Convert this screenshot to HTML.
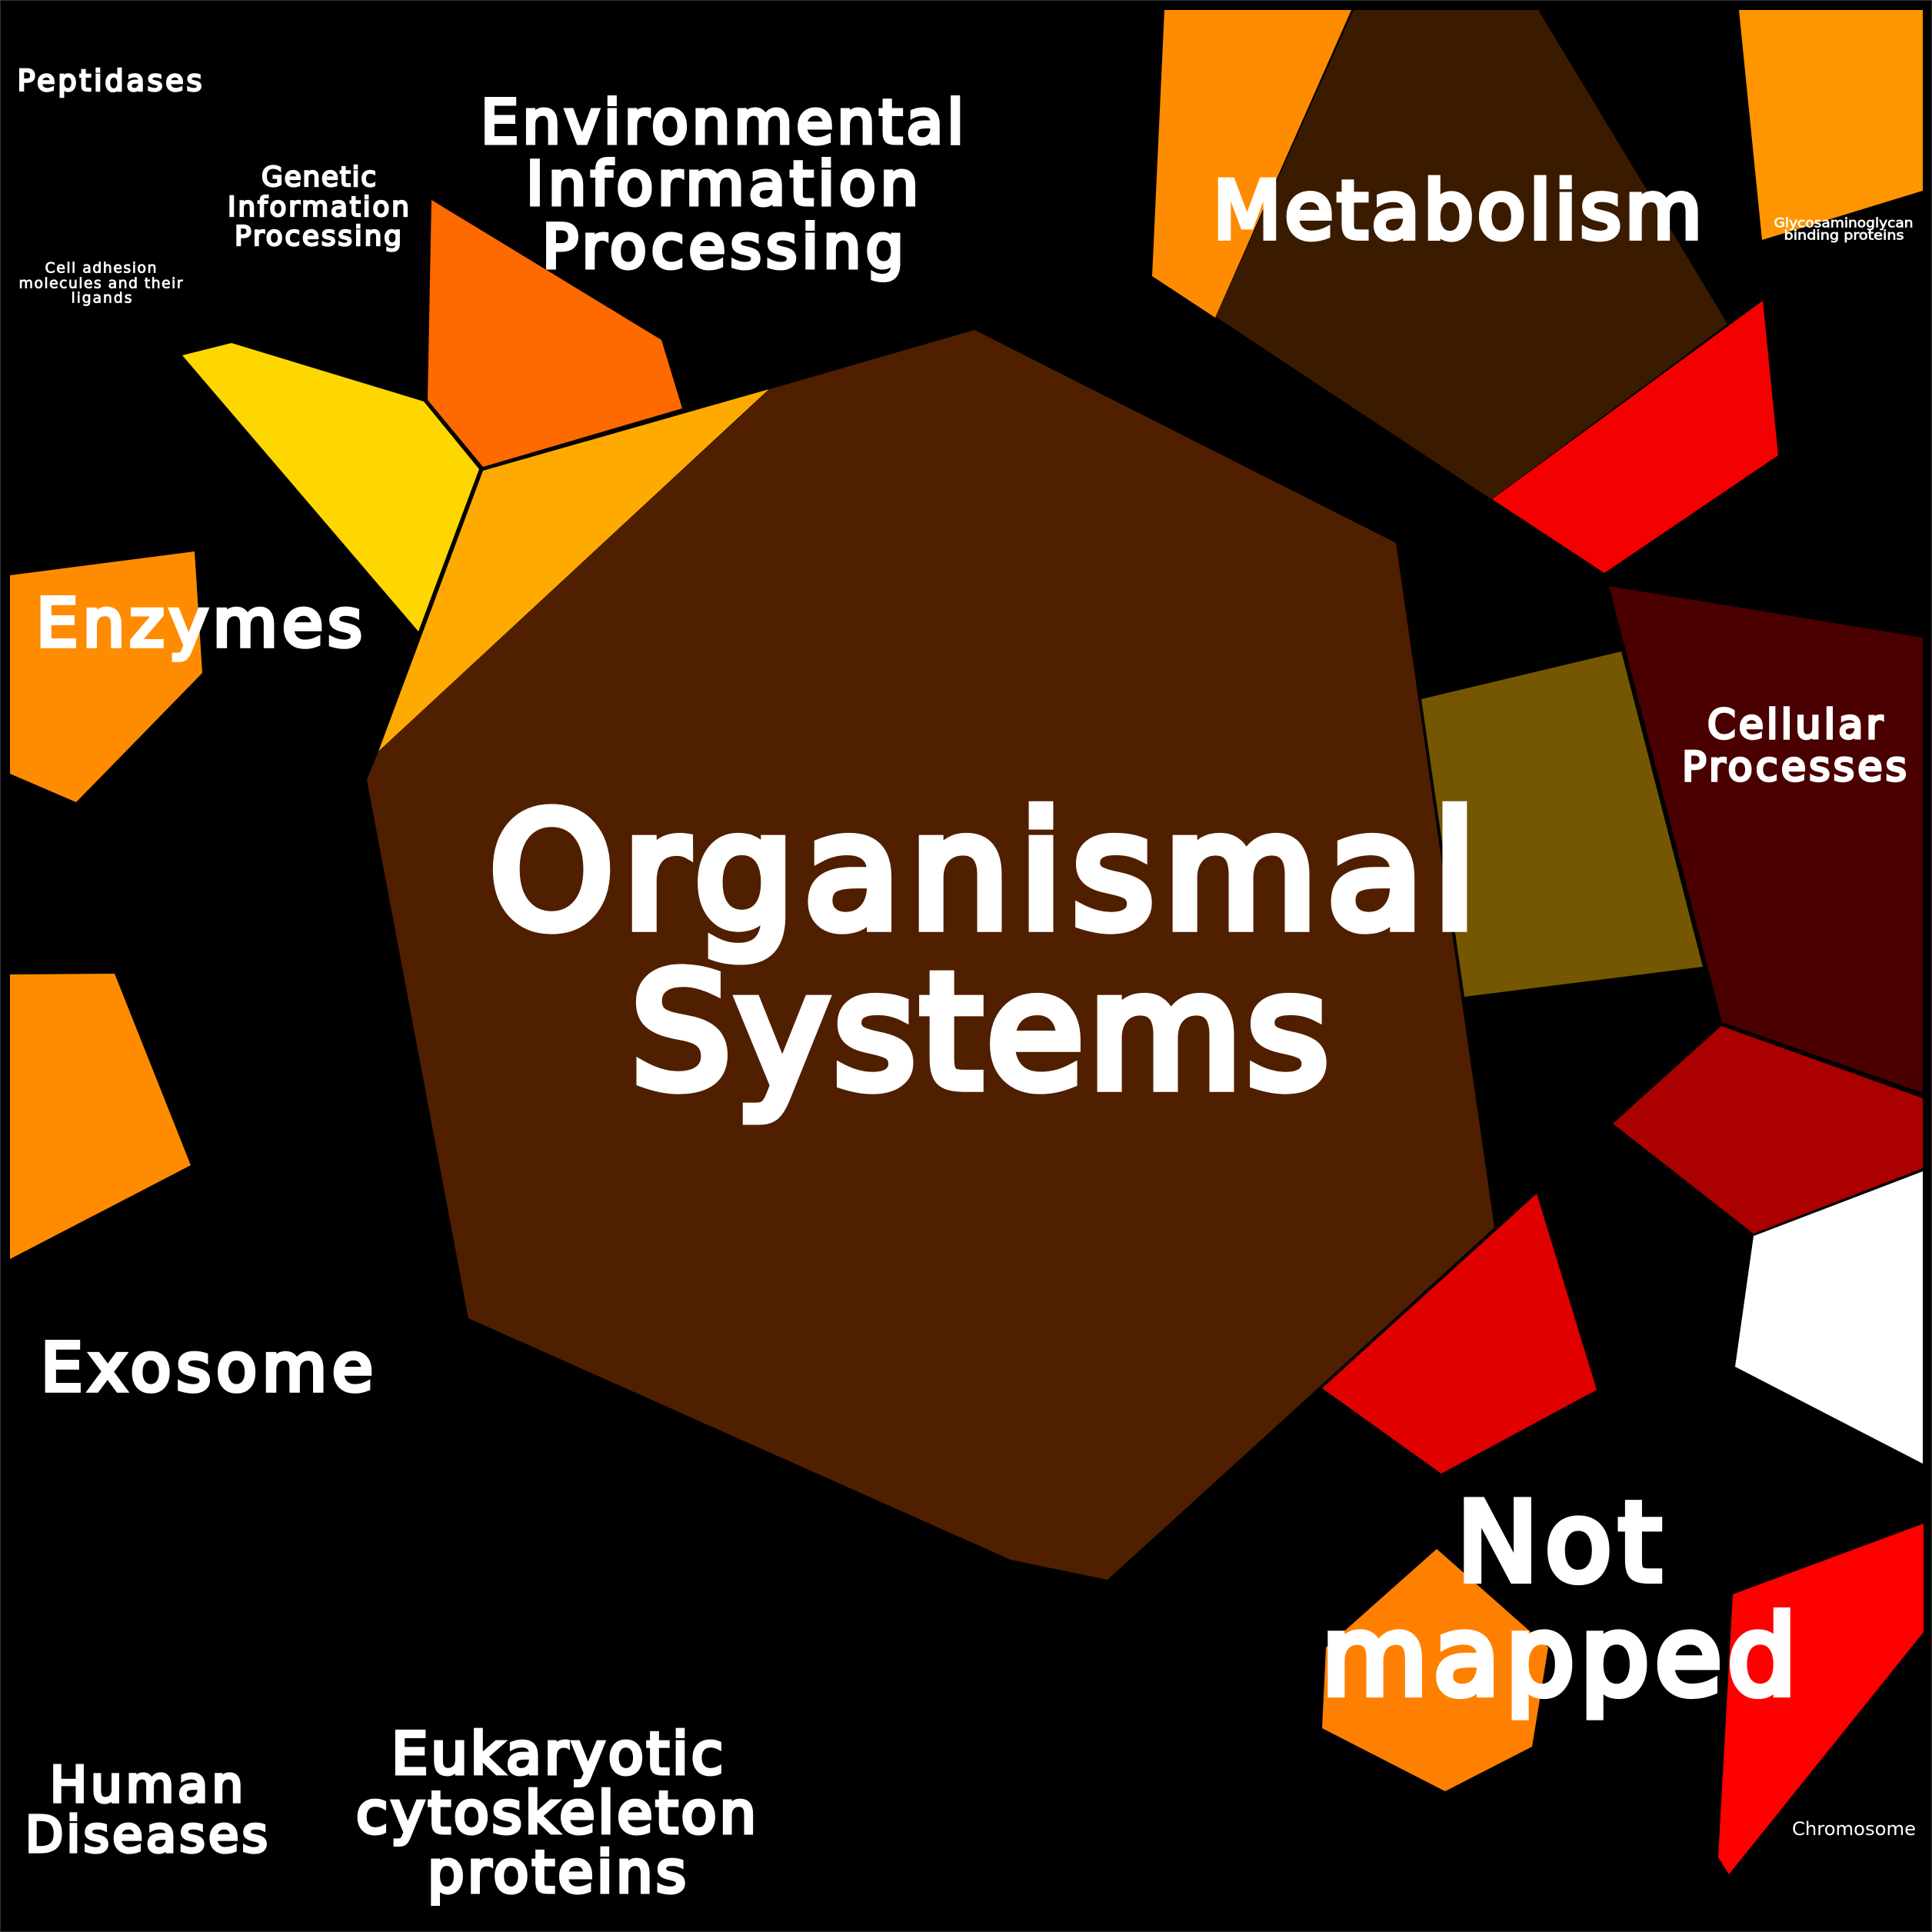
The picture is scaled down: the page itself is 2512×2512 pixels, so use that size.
<!DOCTYPE html>
<html><head><meta charset="utf-8"><style>
html,body{margin:0;padding:0;background:#000;width:2512px;height:2512px;overflow:hidden}
svg{display:block}
text{font-family:"DejaVu Sans","Liberation Sans",sans-serif;font-weight:normal;fill:#fff;stroke:#fff;stroke-width:.065em;stroke-linejoin:miter}
text.c{stroke:none}
text.t{stroke-width:.04em}
</style></head><body>
<svg width="2512" height="2512" viewBox="0 0 2512 2512" xmlns="http://www.w3.org/2000/svg">
<rect width="2512" height="2512" fill="#000"/>
<rect x="0.5" y="0.5" width="2511" height="2511" fill="none" stroke="#333" stroke-width="1"/>
<polygon fill="#ff8c00" points="1514,13 1757,13 1580,413 1498,359"/>
<polygon fill="#3b1b00" points="1760,13 2000,13 2246,421 1939,649 1581,412"/>
<polygon fill="#ff9500" points="2261,13 2500,13 2500,248 2291,312"/>
<polygon fill="#f50000" points="2292,391 2312,592 2086,745 1940,649"/>
<polygon fill="#ff6a00" points="561,260 860,442 887,531 628,607 556,520"/>
<polygon fill="#ffd700" points="237,462 301,446 551,522 623,610 544,821"/>
<polygon fill="#ffaa00" points="628,612 1000,506 492,977"/>
<polygon fill="#501f00" points="1267,429 1815,706 1943,1596 1440,2054 1314,2028 609,1714 477,1014 492,977 1001,506"/>
<polygon fill="#ff8c00" points="13,748 253,717 263,875 99,1043 13,1006"/>
<polygon fill="#ff8c00" points="13,1267 149,1266 248,1515 13,1637"/>
<polygon fill="#745700" points="1848,909 2108,847 2214,1257 1904,1296"/>
<polygon fill="#4a0000" points="2092,762 2500,829 2500,1421 2239,1329"/>
<polygon fill="#aa0000" points="2238,1334 2500,1428 2500,1519 2280,1604 2097,1461"/>
<polygon fill="#fff" points="2280,1607 2500,1523 2500,1903 2256,1777"/>
<polygon fill="#e00000" points="1998,1552 2076,1807 1874,1916 1719,1805"/>
<polygon fill="#ff8000" points="1868,2014 2013,2142 1992,2271 1879,2329 1719,2247 1724,2142"/>
<polygon fill="#ff0000" points="2501,1981 2501,2122 2248,2437 2234,2415 2253,2073"/>

<text x="636" y="1205" font-size="206" textLength="1284" lengthAdjust="spacing">Organismal</text>
<text x="820" y="1413" font-size="206" textLength="908" lengthAdjust="spacing">Systems</text>
<text x="22.5" y="118" font-size="38.5" textLength="240" lengthAdjust="spacing">Peptidases</text>
<text x="625" y="186" font-size="78" textLength="628" lengthAdjust="spacing">Environmental</text>
<text x="684" y="266" font-size="78" textLength="510" lengthAdjust="spacing">Information</text>
<text x="705" y="348" font-size="78" textLength="470" lengthAdjust="spacing">Processing</text>
<text x="340" y="242" font-size="36" textLength="149" lengthAdjust="spacing">Genetic</text>
<text x="296" y="281" font-size="36" textLength="236" lengthAdjust="spacing">Information</text>
<text x="305" y="319" font-size="36" textLength="217" lengthAdjust="spacing">Processing</text>
<text class="t" x="58.5" y="354.5" font-size="19" textLength="145" lengthAdjust="spacing">Cell adhesion</text>
<text class="t" x="24.5" y="374.5" font-size="19" textLength="213" lengthAdjust="spacing">molecules and their</text>
<text class="t" x="92.5" y="393.5" font-size="19" textLength="79" lengthAdjust="spacing">ligands</text>
<text x="47" y="840" font-size="86.5" textLength="424" lengthAdjust="spacing">Enzymes</text>
<text x="1577" y="309.5" font-size="103" textLength="636" lengthAdjust="spacing">Metabolism</text>
<text class="t" x="2306.5" y="295.5" font-size="17" textLength="181" lengthAdjust="spacingAndGlyphs">Glycosaminoglycan</text>
<text class="t" x="2319.5" y="311.5" font-size="17" textLength="156" lengthAdjust="spacingAndGlyphs">binding proteins</text>
<text x="2220" y="960" font-size="52.5" textLength="228" lengthAdjust="spacing">Cellular</text>
<text x="2187" y="1015" font-size="52.5" textLength="292" lengthAdjust="spacing">Processes</text>
<text x="53" y="1808" font-size="86.5" textLength="432" lengthAdjust="spacing">Exosome</text>
<text x="65" y="2342.5" font-size="64" textLength="251" lengthAdjust="spacing">Human</text>
<text x="33" y="2407.5" font-size="64" textLength="315" lengthAdjust="spacing">Diseases</text>
<text x="509" y="2306" font-size="75" textLength="431" lengthAdjust="spacing">Eukaryotic</text>
<text x="463" y="2383" font-size="75" textLength="520" lengthAdjust="spacing">cytoskeleton</text>
<text x="556" y="2460" font-size="75" textLength="336" lengthAdjust="spacing">proteins</text>
<text x="1894" y="2054.5" font-size="142" textLength="266" lengthAdjust="spacing">Not</text>
<text x="1718" y="2202.5" font-size="142" textLength="618" lengthAdjust="spacing">mapped</text>
<text class="c" x="2330" y="2386" font-size="24" textLength="161" lengthAdjust="spacingAndGlyphs">Chromosome</text>
</svg>
</body></html>
